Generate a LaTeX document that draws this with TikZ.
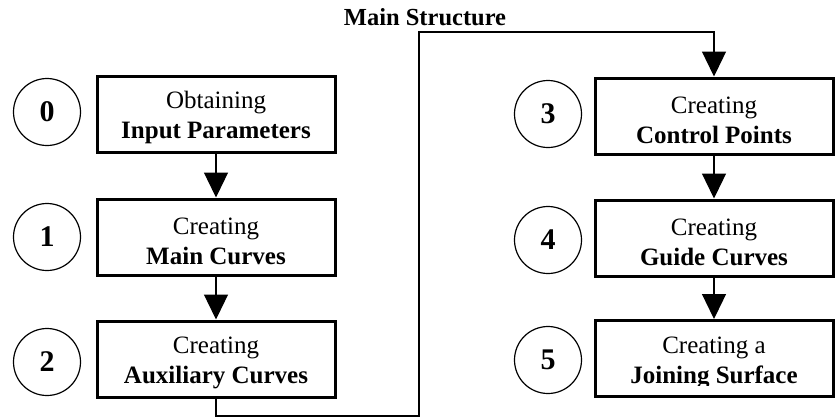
\documentclass[tikz,border=0pt]{standalone}
\usepackage{fontspec}
\setmainfont{Liberation Serif}
\usetikzlibrary{arrows.meta}
\newcommand\topstrut{\rule{0pt}{25pt}}
\tikzset{
  stepbox/.style={draw, line width=3pt, minimum width=238pt, minimum height=76pt,
    inner sep=0pt, align=center, font=\fontsize{25}{30}\selectfont},
  numcircle/.style={draw, circle, line width=1.2pt, minimum size=67pt, inner sep=0pt,
    font=\bfseries\fontsize{30}{30}\selectfont},
  flow/.style={line width=1.3pt, -{Triangle[length=25pt,width=24pt]}},
  titletext/.style={font=\bfseries\fontsize{24.5}{30}\selectfont, inner sep=0pt}
}
\begin{document}
\begin{tikzpicture}[x=1pt,y=-1pt]
\useasboundingbox (0,0) rectangle (835,418);
% title
\node[titletext, anchor=base] (title) at (425,25) {Main Structure};
% left column
\node[stepbox] (b0) at (216,114) {\topstrut Obtaining\\\textbf{Input Parameters}};
\node[stepbox] (b1) at (216,237) {\topstrut Creating\\\textbf{Main Curves}};
\node[stepbox] (b2) at (216,359) {\topstrut Creating\\\textbf{Auxiliary Curves}};
\node[numcircle] (c0) at (47,112) {0};
\node[numcircle] (c1) at (47,237) {1};
\node[numcircle] (c2) at (47,362) {2};
% right column
\node[stepbox] (b3) at (714,116) {\topstrut Creating\\\textbf{Control Points}};
\node[stepbox] (b4) at (714,238) {\topstrut Creating\\\textbf{Guide Curves}};
\node[stepbox] (b5) at (714,358.5) {};
\begin{scope}
  \clip (596,318) rectangle (832,385);
  \node[stepbox, draw=none] (t5) at (714,358.5) {\topstrut Creating a\\\textbf{Joining Surface}};
\end{scope}
\node[numcircle] (c3) at (548,114) {3};
\node[numcircle] (c4) at (548,240) {4};
\node[numcircle] (c5) at (548,360) {5};
% connectors
\draw[flow] (b0) -- (b1);
\draw[flow] (b1) -- (b2);
\draw[flow] (b3) -- (b4);
\draw[flow] (b4) -- (b5);
\coordinate (k1) at (419,416);
\coordinate (k2) at (419,32);
\draw[flow] (b2.south) |- (k1) -- (k2) -| (b3.north);
\end{tikzpicture}
\end{document}
